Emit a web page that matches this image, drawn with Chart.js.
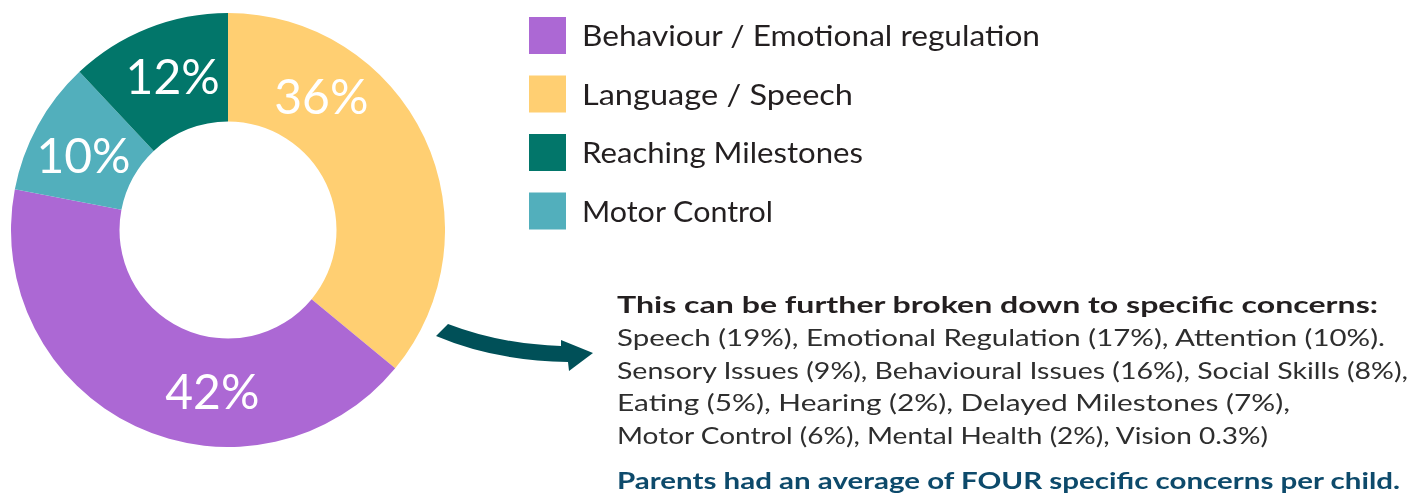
<!DOCTYPE html>
<html>
<head>
<meta charset="utf-8">
<script src="https://cdn.jsdelivr.net/npm/chart.js@4"></script>
<style>
  html, body { margin: 0; padding: 0; background: #fff; }
  body { width: 1428px; height: 493px; position: relative; overflow: hidden; font-family: "Lato", sans-serif; }
  #chartBox { position: absolute; left: 11px; top: 13px; width: 434px; height: 434px; }
  #overlay { position: absolute; left: 0; top: 0; }
</style>
</head>
<body>
<div id="chartBox"><canvas id="graficoDonut"></canvas></div>
<svg id="overlay" width="1428" height="493" xmlns="http://www.w3.org/2000/svg"></svg>
<script>
// categories in legend order
const categories = ["Behaviour / Emotional regulation", "Language / Speech", "Reaching Milestones", "Motor Control"];
const shares = [42, 36, 12, 10];
const colors = ["#AC68D4", "#FFCF72", "#02766A", "#52AFBC"];
// clockwise order of the slices from 12 o'clock
const sliceOrder = [1, 0, 3, 2];
// where each label sits along its slice (0 = start, 1 = end)
const labelAlong = [0.37, 0.27, 0.54, 0.46];

const detailTitle = "This can be further broken down to specific concerns:";
const detailLines = [
  "Speech (19%), Emotional Regulation (17%), Attention (10%).",
  "Sensory Issues (9%), Behavioural Issues (16%), Social Skills (8%),",
  "Eating (5%), Hearing (2%), Delayed Milestones (7%),",
  "Motor Control (6%), Mental Health (2%), Vision 0.3%)"
];
const footNote = "Parents had an average of FOUR specific concerns per child.";

document.addEventListener("DOMContentLoaded", () => {
  const ctx = document.getElementById("graficoDonut").getContext("2d");

  const labelPlugin = {
    id: "sliceLabels",
    afterDatasetsDraw(chart) {
      const c = chart.ctx;
      const meta = chart.getDatasetMeta(0);
      c.save();
      c.fillStyle = "#ffffff";
      c.font = "400 48px Lato";
      c.textAlign = "center";
      c.textBaseline = "middle";
      meta.data.forEach((arc, i) => {
        const cat = sliceOrder[i];
        const p = arc.getProps(["x", "y", "startAngle", "endAngle", "innerRadius", "outerRadius"], true);
        const a = p.startAngle + labelAlong[cat] * (p.endAngle - p.startAngle);
        const r = (p.innerRadius + p.outerRadius) / 2;
        c.fillText(shares[cat] + "%", p.x + Math.cos(a) * r, p.y + Math.sin(a) * r + 2);
      });
      c.restore();
    }
  };

  new Chart(ctx, {
    type: 'doughnut',
    data: {
      labels: sliceOrder.map(i => categories[i]),
      datasets: [{
        data: sliceOrder.map(i => shares[i]),
        backgroundColor: sliceOrder.map(i => colors[i]),
        borderWidth: 0
      }]
    },
    options: {
      responsive: true,
      maintainAspectRatio: false,
      animation: false,
      cutout: "50%",
      layout: { padding: 0 },
      plugins: {
        legend: { display: false },
        tooltip: { enabled: false }
      }
    },
    plugins: [labelPlugin]
  });

  // legend, arrow and notes
  const svg = document.getElementById("overlay");
  const NS = "http://www.w3.org/2000/svg";
  const add = (tag, attrs, text) => {
    const el = document.createElementNS(NS, tag);
    for (const k in attrs) el.setAttribute(k, attrs[k]);
    if (text) el.textContent = text;
    svg.appendChild(el);
    return el;
  };

  const legendWidths = [458, 271, 281, 191];
  categories.forEach((name, i) => {
    const top = 17 + i * 58.5;
    add("rect", { x: 529, y: top, width: 37, height: 37, fill: colors[i] });
    add("text", {
      x: 582, y: top + 29, "font-family": "Lato", "font-size": 29, fill: "#231f20",
      textLength: legendWidths[i], lengthAdjust: "spacingAndGlyphs"
    }, name);
  });

  add("path", {
    d: "M 448 324 Q 500 344 561 346 L 561 340 L 593 353 L 569 371 L 568 362 Q 495 361 436 336 Z",
    fill: "#005058"
  });

  add("text", {
    x: 617, y: 313, "font-family": "Lato", "font-weight": 700, "font-size": 23, fill: "#231f20",
    textLength: 761, lengthAdjust: "spacingAndGlyphs"
  }, detailTitle);
  const lineWidths = [768, 791, 673, 651];
  detailLines.forEach((line, i) => {
    add("text", {
      x: 617, y: 346 + i * 32.7, "font-family": "Lato", "font-weight": 400, "font-size": 23, fill: "#2e2e2e",
      textLength: lineWidths[i], lengthAdjust: "spacingAndGlyphs"
    }, line);
  });
  add("text", {
    x: 617, y: 489, "font-family": "Lato", "font-weight": 700, "font-size": 23, fill: "#0d4a6b",
    textLength: 783, lengthAdjust: "spacingAndGlyphs"
  }, footNote);
});
</script>
</body>
</html>
